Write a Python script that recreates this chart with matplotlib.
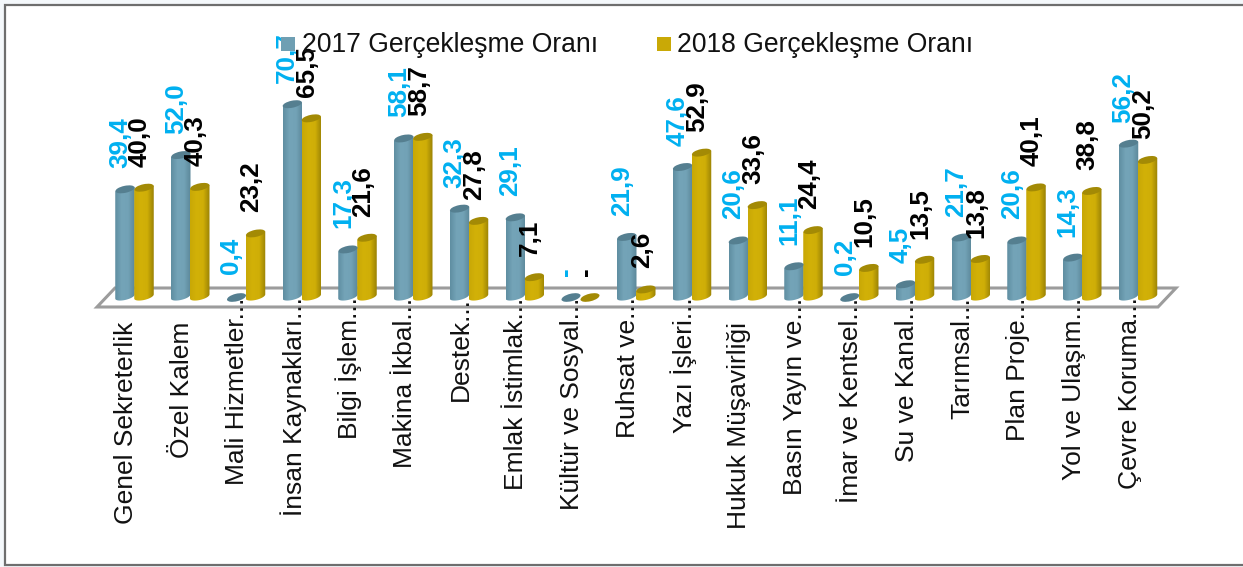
import numpy as np
import matplotlib
matplotlib.use("Agg")
import matplotlib.pyplot as plt
from matplotlib.patches import Ellipse, PathPatch, Polygon, Rectangle
from matplotlib.path import Path
from matplotlib.colors import LinearSegmentedColormap
from matplotlib.transforms import IdentityTransform

plt.rcParams['font.family'] = ['Liberation Sans', 'DejaVu Sans']

categories = ["Genel Sekreterlik", "Özel Kalem", "Mali Hizmetler...", "İnsan Kaynakları...",
	"Bilgi İşlem...", "Makina İkbal...", "Destek...", "Emlak İstimlak...",
	"Kültür ve Sosyal...", "Ruhsat ve...", "Yazı İşleri...", "Hukuk Müşavirliği",
	"Basın Yayın ve...", "İmar ve Kentsel...", "Su ve Kanal...", "Tarımsal...",
	"Plan Proje...", "Yol ve Ulaşım...", "Çevre Koruma..."]
values_2017 = [39.4, 52.0, 0.4, 70.7, 17.3, 58.1, 32.3, 29.1, 0, 21.9, 47.6, 20.6, 11.1, 0.2, 4.5, 21.7, 20.6, 14.3, 56.2]
values_2018 = [40.0, 40.3, 23.2, 65.5, 21.6, 58.7, 27.8, 7.1, 0, 2.6, 52.9, 33.6, 24.4, 10.5, 13.5, 13.8, 40.1, 38.8, 50.2]
legend_labels = ["2017 Gerçekleşme Oranı", "2018 Gerçekleşme Oranı"]

W, H = 1243, 567
STEP = 55.75
X0 = 134.5
fig = plt.figure(figsize=(W/100, H/100), dpi=100, facecolor='#f4f8fb')
# axes runs from the chart floor up to the top of the figure
ZERO_Y = 296.5
ax = fig.add_axes([0, 1-ZERO_Y/H, 1, ZERO_Y/H])
ax.axis('off')

def set_limits():
	ax.set_ylim(0, ZERO_Y/2.72)
	ax.set_xlim((0-X0)/STEP, (W-X0)/STEP)

set_limits()

def px(x, y):
	return (x, H-y)

# outer frame (runs off the right edge) and floor
fig.add_artist(Rectangle(px(5, 565), 1250, 560, fc='white', ec='#6e6e6e', lw=1.6, transform=IdentityTransform(), zorder=-1))
floor = [px(97, 307), px(115, 288), px(1176, 288), px(1158, 307)]
ax.add_patch(Polygon(floor, closed=True, fc='white', ec='#9c9c9c', lw=2.2, transform=IdentityTransform(), clip_on=False, zorder=1))

cmap_blue = LinearSegmentedColormap.from_list('b', ['#5f8ea1', '#74a4b8', '#72a2b6', '#5b8799'])
cmap_gold = LinearSegmentedColormap.from_list('g', ['#c8a806', '#d2b108', '#cfae07', '#9a8205'])
BAR_W = 19.5
ELL_H = 7.0
ANGLE = 12

def cylinder(x, v, cmap, top):
	cx, cy0 = ax.transData.transform((x, 0))
	_, cy1 = ax.transData.transform((x, v))
	if v <= 0.5:
		# nearly empty bar is only a flat disc
		ax.add_patch(Ellipse((cx, cy0-1), BAR_W, 7.5, angle=14, fc=top, ec='none', transform=IdentityTransform(), clip_on=False, zorder=3))
		return
	l, r = cx-BAR_W/2, cx+BAR_W/2
	n = 24
	t = np.linspace(np.pi, 2*np.pi, n)
	tilt = np.tan(np.radians(ANGLE))
	bx = cx+BAR_W/2*np.cos(t)
	by = cy0+ELL_H/2*np.sin(t)+(bx-cx)*tilt
	verts = [(l, cy1-BAR_W/2*tilt)]+list(zip(bx, by))+[(r, cy1+BAR_W/2*tilt), (l, cy1-BAR_W/2*tilt)]
	patch = PathPatch(Path(verts), fc='none', ec='none', transform=IdentityTransform(), clip_on=False, zorder=2)
	ax.add_patch(patch)
	im = ax.imshow(np.linspace(0, 1, 64).reshape(1, -1), cmap=cmap, aspect='auto', extent=(x-0.5*BAR_W/STEP, x+0.5*BAR_W/STEP, -5, v+5), zorder=2, interpolation='bilinear')
	im.set_clip_box(fig.bbox)
	im.set_clip_path(patch)
	ax.add_patch(Ellipse((cx, cy1), BAR_W, ELL_H, angle=ANGLE, fc=top, ec='none', transform=IdentityTransform(), clip_on=False, zorder=3))

def fmt(v):
	return "-" if v == 0 else ("%.1f" % v).replace('.', ',')

for i, (a, b) in enumerate(zip(values_2017, values_2018)):
	cylinder(i-9.5/STEP, a, cmap_blue, '#557f90')
	cylinder(i+9.5/STEP, b, cmap_gold, '#a38a05')
set_limits()
for i, (a, b) in enumerate(zip(values_2017, values_2018)):
	ax.annotate(fmt(a), (i, a), xytext=(-14.5*0.72, 15.1), textcoords='offset points', rotation=90, ha='center', va='bottom',
		fontsize=18.7, fontweight='bold', color='#00b0f0', zorder=5, annotation_clip=False)
	ax.annotate(fmt(b), (i, b), xytext=(5.5*0.72, 15.1), textcoords='offset points', rotation=90, ha='center', va='bottom',
		fontsize=18.7, fontweight='bold', color='black', zorder=6, annotation_clip=False)
	# long names are cut with dots that run up into the floor
	name = categories[i]
	up = 24.5 if name.endswith('...') else 0
	ax.annotate(name, (i, 0), xytext=(-8.5*0.72, (-25.5+up)*0.72), textcoords='offset points', rotation=90, ha='center', va='top',
		fontsize=19, color='#111111', zorder=7, annotation_clip=False)

# legend by hand, same spots as reference
for sx, sy, c, tx, lab in [(281, 51, '#6f9fb3', 302, legend_labels[0]), (657, 51, '#c9a906', 677, legend_labels[1])]:
	fig.add_artist(Rectangle(px(sx, sy), 14, 14, fc=c, ec='none', transform=IdentityTransform(), zorder=8))
	fig.text(tx/W, 1-52/H, lab, fontsize=19.1, va='baseline', ha='left', color='#111111', zorder=9)

plt.savefig("out.png", dpi=100)
plt.close()
